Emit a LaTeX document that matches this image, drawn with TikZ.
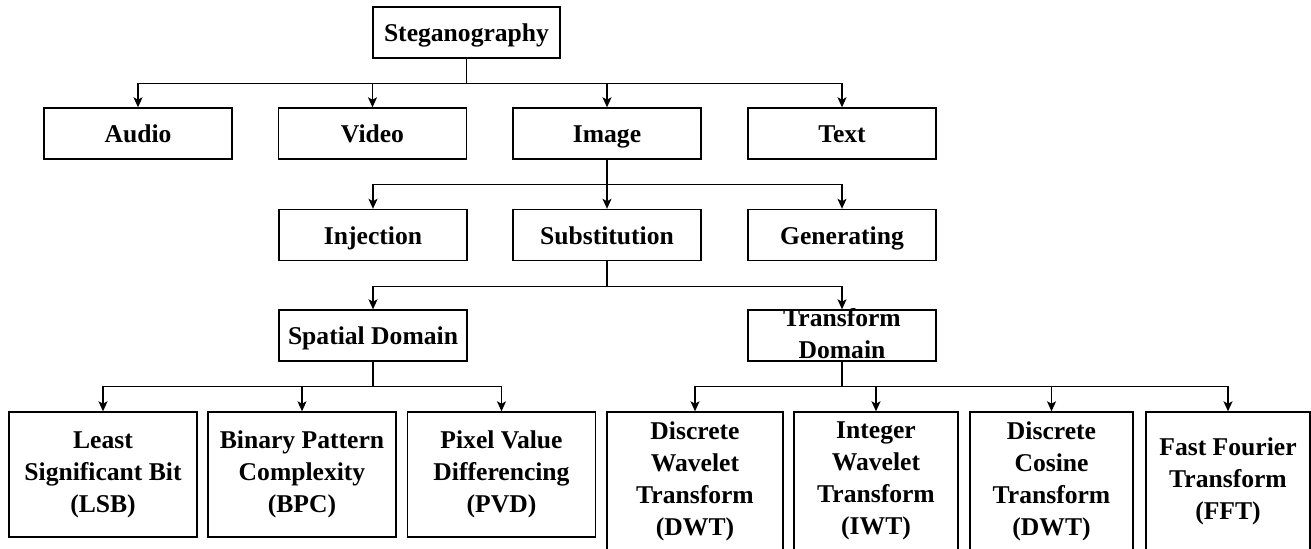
\documentclass[tikz,border=0pt]{standalone}
\usepackage{fontspec}
\setmainfont{Liberation Serif}
\usetikzlibrary{arrows.meta}

\begin{document}
\begin{tikzpicture}[x=0.5pt,y=-0.5pt,
  base/.style={draw, line width=0.7pt, inner sep=0pt, align=center,
    font=\bfseries\fontsize{12.8}{16}\selectfont,
    minimum width=94pt, minimum height=25.5pt},
  box/.style={base, text height=10pt, text depth=0.8pt},
  leaf/.style={base, minimum height=62.5pt},
  tleaf/.style={base, minimum width=82pt, minimum height=69pt},
  link/.style={line width=0.7pt, -{Stealth[length=5pt,width=4.5pt,inset=1.2pt]}}]

\useasboundingbox (0,0) rectangle (1311,548);

% Racine
\node[box, minimum width=93.5pt] (steg) at (466.5,32.5) {Steganography};

% Supports
\node[box] (audio) at (138,133.5) {Audio};
\node[box] (video) at (372.5,133.5) {Video};
\node[box] (image) at (607,133.5) {Image};
\node[box] (txt) at (842,133.5) {Text};

% Methodes
\node[box] (inj) at (373,235) {Injection};
\node[box] (sub) at (607,235) {Substitution};
\node[box] (gen) at (842,235) {Generating};

% Domaines
\node[box] (spat) at (373,335.5) {Spatial Domain};
\node[base] (trans) at (842,335.5)
  {\raisebox{-3.4pt}[0pt][0pt]{\begin{tabular}{@{}c@{}}Transform\\Domain\end{tabular}}};

% Spatial
\node[leaf] (lsb) at (103,474.5) {Least\\Significant Bit\\(LSB)};
\node[leaf] (bpc) at (302,474.5) {Binary Pattern\\Complexity\\(BPC)};
\node[leaf] (pvd) at (501.5,474.5) {Pixel Value\\Differencing\\(PVD)};

% Transforme
\node[tleaf, minimum width=88pt] (dwt) at (695,481) {Discrete\\Wavelet\\Transform\\(DWT)};
\node[tleaf] (iwt) at (876,481) {Integer\\Wavelet\\Transform\\(IWT)};
\node[tleaf, minimum width=81.5pt] (dct) at (1051.5,481) {Discrete\\Cosine\\Transform\\(DWT)};
\node[tleaf] (fft) at (1228,481) {Fast Fourier\\Transform\\(FFT)};

% Liaisons
\foreach \c in {audio,video,image,txt}
  \draw[link] (steg.south) -- ++(0,25) -| (\c.north);
\foreach \c in {inj,sub,gen}
  \draw[link] (image.south) -- ++(0,25) -| (\c.north);
\foreach \c in {spat,trans}
  \draw[link] (sub.south) -- ++(0,25) -| (\c.north);
\foreach \c in {lsb,bpc,pvd}
  \draw[link] (spat.south) -- ++(0,25) -| (\c.north);
\foreach \c in {dwt,iwt,dct,fft}
  \draw[link] (trans.south) -- ++(0,25) -| (\c.north);

\end{tikzpicture}
\end{document}
